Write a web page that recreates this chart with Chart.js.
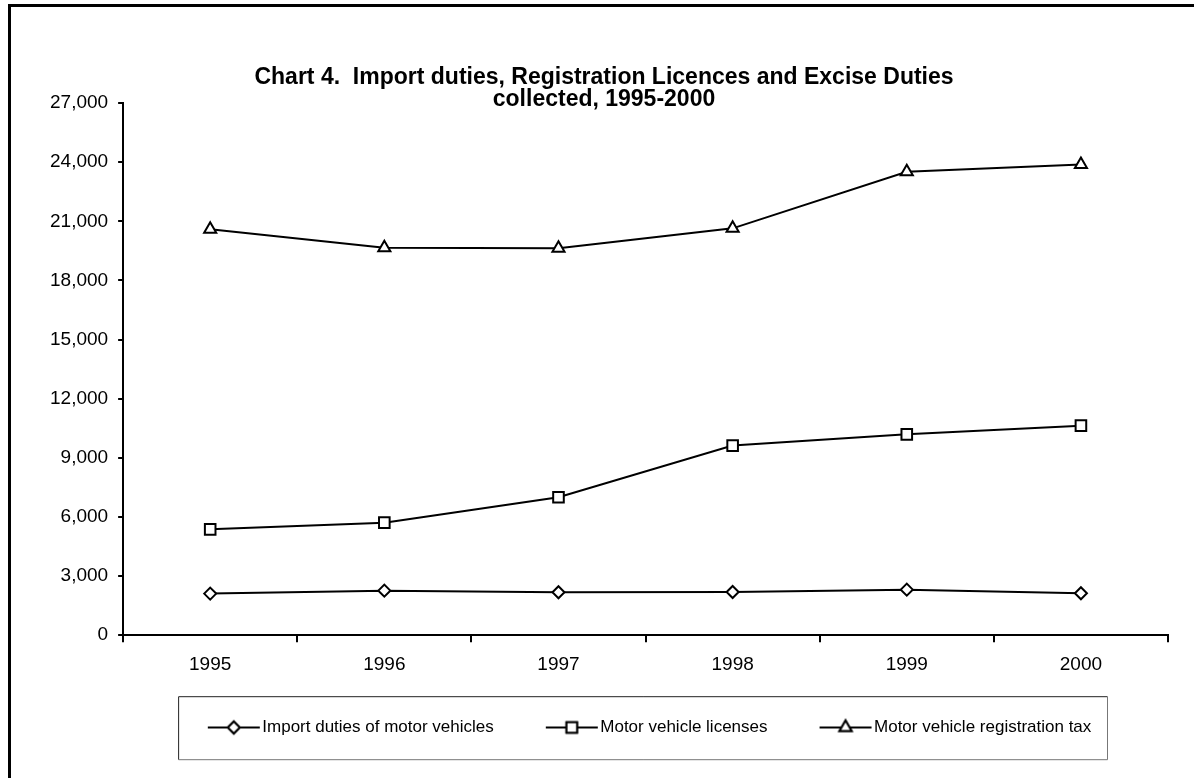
<!DOCTYPE html>
<html>
<head>
<meta charset="utf-8">
<title>Chart 4</title>
<script src="https://cdn.jsdelivr.net/npm/chart.js@4"></script>
<style>
  html, body { margin: 0; padding: 0; background: #fff; overflow: hidden; }
  #wrap { position: relative; width: 1194px; height: 778px; }
  #frame { position: absolute; left: 8px; top: 4px; width: 1200px; height: 800px;
           border-left: 3px solid #000; border-top: 3px solid #000; pointer-events: none; }
  canvas { position: absolute; left: 0; top: 0; }
</style>
</head>
<body>
<div id="wrap">
  <canvas id="chart" width="1194" height="778"></canvas>
  <div id="frame"></div>
</div>
<script>
// --- Data ---
const years = ['1995', '1996', '1997', '1998', '1999', '2000'];
const importDuties = [2110, 2260, 2180, 2190, 2310, 2130];
const vehicleLicenses = [5370, 5710, 7000, 9620, 10190, 10630];
const registrationTax = [20590, 19660, 19630, 20640, 23510, 23880];
const seriesNames = ['Import duties of motor vehicles', 'Motor vehicle licenses', 'Motor vehicle registration tax'];
const yTicks = [0, 3000, 6000, 9000, 12000, 15000, 18000, 21000, 24000, 27000];

const FONT = '"Liberation Sans", Arial, Helvetica, sans-serif';

// --- Helpers ---
function getEl(id) {
  return document.getElementById(id);
}

// legend symbol: short line with the marker in the middle
function legendSymbol(style, radius) {
  const c = document.createElement('canvas');
  c.width = 68;
  c.height = 20;
  const ctx = c.getContext('2d');
  ctx.strokeStyle = '#000';
  ctx.lineWidth = 2;
  ctx.beginPath();
  ctx.moveTo(15, 10);
  ctx.lineTo(67, 10);
  ctx.stroke();
  ctx.fillStyle = '#fff';
  Chart.helpers.drawPoint(ctx, { pointStyle: style, radius: radius, borderWidth: 2, rotation: 0 }, 41, 10);
  ctx.fill();
  ctx.stroke();
  return c;
}

// box round the legend, as in the spreadsheet chart
const legendFrame = {
  id: 'legendFrame',
  afterDraw(chart) {
    const a = chart.chartArea;
    const ctx = chart.ctx;
    const x = a.left + 55, y = a.bottom + 61;
    const w = a.right - 61 - x, h = 63;
    ctx.save();
    ctx.lineWidth = 1;
    ctx.strokeStyle = '#222';
    ctx.beginPath();
    ctx.moveTo(x + 0.5, y + h + 0.5);
    ctx.lineTo(x + 0.5, y + 0.5);
    ctx.lineTo(x + w + 0.5, y + 0.5);
    ctx.stroke();
    ctx.strokeStyle = '#777';
    ctx.beginPath();
    ctx.moveTo(x + w + 0.5, y + 0.5);
    ctx.lineTo(x + w + 0.5, y + h + 0.5);
    ctx.lineTo(x + 0.5, y + h + 0.5);
    ctx.stroke();
    ctx.restore();
  }
};

function makeSeries(label, data, style, radius) {
  return {
    label,
    data,
    borderColor: '#000',
    borderWidth: 2,
    backgroundColor: '#fff',
    pointStyle: style,
    pointRadius: radius,
    pointHoverRadius: radius,
    pointBorderWidth: 2,
    pointBackgroundColor: '#fff',
    pointBorderColor: '#000',
    tension: 0
  };
}

// --- Chart ---
const marks = [['rectRot', 6], ['rect', 7.5], ['triangle', 7]];
const symbols = marks.map(m => legendSymbol(m[0], m[1]));

new Chart(getEl('chart').getContext('2d'), {
  type: 'line',
  data: {
    labels: years,
    datasets: [
      makeSeries(seriesNames[0], importDuties, marks[0][0], marks[0][1]),
      makeSeries(seriesNames[1], vehicleLicenses, marks[1][0], marks[1][1]),
      makeSeries(seriesNames[2], registrationTax, marks[2][0], marks[2][1])
    ]
  },
  options: {
    responsive: false,
    animation: false,
    devicePixelRatio: 1,
    layout: { padding: { top: 0, left: 40, right: 26, bottom: 32 } },
    plugins: {
      title: {
        display: true,
        text: ['Chart 4.  Import duties, Registration Licences and Excise Duties', 'collected, 1995-2000'],
        color: '#000',
        font: { family: FONT, size: 23, weight: 'bold', lineHeight: '22px' },
        padding: { top: 67, bottom: -8 }
      },
      legend: {
        position: 'bottom',
        fullSize: false,
        labels: {
          color: '#000',
          font: { family: FONT, size: 17 },
          usePointStyle: true,
          pointStyleWidth: 54,
          padding: 44,
          generateLabels(chart) {
            const items = Chart.defaults.plugins.legend.labels.generateLabels(chart);
            items.forEach((it, i) => { it.pointStyle = symbols[i]; });
            return items;
          }
        }
      },
      tooltip: { enabled: false }
    },
    scales: {
      x: {
        type: 'category',
        offset: true,
        afterFit(scale) {
          // pull the legend up closer to the axis labels
          scale.height -= 12;
        },
        grid: { display: true, offset: true, drawOnChartArea: false, drawTicks: true, tickLength: 7, color: '#000', lineWidth: 2 },
        border: { display: true, color: '#000', width: 2 },
        ticks: { color: '#000', font: { family: FONT, size: 19 }, padding: 11, maxRotation: 0 }
      },
      y: {
        min: 0,
        max: 27000,
        afterBuildTicks(scale) {
          scale.ticks = yTicks.map(v => ({ value: v }));
        },
        grid: { display: true, drawOnChartArea: false, drawTicks: true, tickLength: 5, color: '#000', lineWidth: 2 },
        border: { display: true, color: '#000', width: 2 },
        ticks: {
          color: '#000',
          font: { family: FONT, size: 19 },
          padding: 10,
          callback: v => v.toLocaleString('en-US')
        }
      }
    }
  },
  plugins: [legendFrame]
});
</script>
</body>
</html>
